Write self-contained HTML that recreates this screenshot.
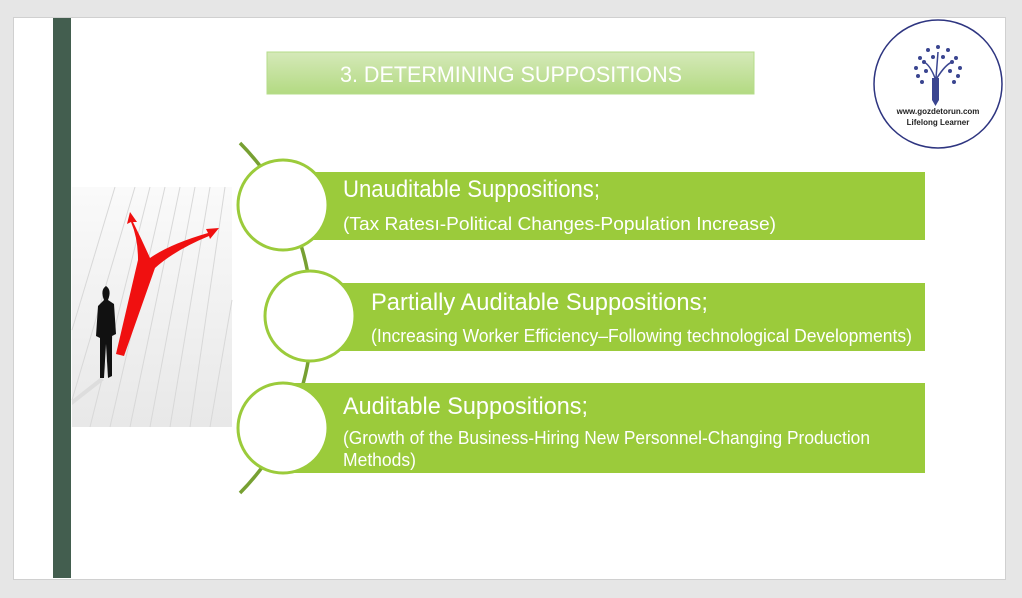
<!DOCTYPE html>
<html><head><meta charset="utf-8"><style>
html,body{margin:0;padding:0;background:#e6e6e6;}
svg{display:block;}
</style></head><body>
<svg width="1022" height="598" viewBox="0 0 1022 598" xmlns="http://www.w3.org/2000/svg" font-family="Liberation Sans, sans-serif">
<defs>
<linearGradient id="tg" x1="0" y1="0" x2="0" y2="1"><stop offset="0" stop-color="#d5e9b9"/><stop offset="1" stop-color="#b3da82"/></linearGradient>
<linearGradient id="ig" x1="0" y1="0" x2="0" y2="1"><stop offset="0" stop-color="#fafafa"/><stop offset="1" stop-color="#e8e8e8"/></linearGradient>
</defs>
<rect x="0" y="0" width="1022" height="598" fill="#e6e6e6"/>
<rect x="13.5" y="17.5" width="992" height="562" fill="#fff" stroke="#d0d0d0"/>
<rect x="53" y="18" width="18" height="560" fill="#435e4f"/>
<rect x="267" y="52" width="487" height="42" fill="url(#tg)" stroke="#b5dc8a"/>
<text x="340" y="82" font-size="22" fill="#fff" textLength="342" lengthAdjust="spacingAndGlyphs">3. DETERMINING SUPPOSITIONS</text>
<rect x="72" y="187" width="160" height="240" fill="url(#ig)"/>
<g stroke="#d8d8d8" stroke-width="1">
<line x1="90" y1="427" x2="150" y2="187"/><line x1="110" y1="427" x2="165" y2="187"/><line x1="130" y1="427" x2="180" y2="187"/><line x1="150" y1="427" x2="195" y2="187"/><line x1="170" y1="427" x2="210" y2="187"/><line x1="190" y1="427" x2="225" y2="187"/><line x1="210" y1="427" x2="232" y2="300"/><line x1="72" y1="400" x2="135" y2="187"/><line x1="72" y1="330" x2="115" y2="187"/>
</g>
<path d="M116 354 L138 260 Q138 238 131 222 L127 224 L130 212 L137 222 L133 222 Q142 240 150 258 Q170 244 208 233 L206 229 L219 228 L210 239 L209 236 Q175 250 155 268 L124 356 Z" fill="#f01010"/>
<path d="M104 300 q-4-10 2-14 q6 4 2 14 l6 4 l2 30 l-4 2 l0 40 l-4 2 l-2-34 l-2 34 l-4 0 l0-40 l-4-2 l2-30 z" fill="#111"/>
<path d="M100 378 L72 400 L72 405 L104 380 Z" fill="#ddd"/>
<path d="M240 143 A249 249 0 0 1 240 493" fill="none" stroke="#77a032" stroke-width="3.5"/>
<rect x="283" y="172" width="642" height="68" fill="#9bcb3b"/>
<rect x="310" y="283" width="615" height="68" fill="#9bcb3b"/>
<rect x="283" y="383" width="642" height="90" fill="#9bcb3b"/>
<g fill="#fff" stroke="#9bcb3b" stroke-width="3">
<circle cx="283" cy="205" r="45"/>
<circle cx="310" cy="316" r="45"/>
<circle cx="283" cy="428" r="45"/>
</g>
<g fill="#fff">
<text x="343" y="197" font-size="24" textLength="257" lengthAdjust="spacingAndGlyphs">Unauditable Suppositions;</text>
<text x="343" y="230" font-size="18" textLength="433" lengthAdjust="spacingAndGlyphs">(Tax Ratesı-Political Changes-Population Increase)</text>
<text x="371" y="310" font-size="24" textLength="337" lengthAdjust="spacingAndGlyphs">Partially Auditable Suppositions;</text>
<text x="371" y="342" font-size="18" textLength="541" lengthAdjust="spacingAndGlyphs">(Increasing Worker Efficiency–Following technological Developments)</text>
<text x="343" y="414" font-size="24" textLength="245" lengthAdjust="spacingAndGlyphs">Auditable Suppositions;</text>
<text x="343" y="444" font-size="18" textLength="527" lengthAdjust="spacingAndGlyphs">(Growth of the Business-Hiring New Personnel-Changing Production</text>
<text x="343" y="466" font-size="18" textLength="73" lengthAdjust="spacingAndGlyphs">Methods)</text>
</g>
<circle cx="938" cy="84" r="64" fill="#fff" stroke="#2e3580" stroke-width="1.5"/>
<g fill="#3a4590">
<rect x="932" y="78" width="7" height="22"/>
<path d="M932 100 L939 100 L935.5 106 Z"/>
<circle cx="920" cy="58" r="2"/><circle cx="928" cy="50" r="2"/><circle cx="938" cy="47" r="2"/><circle cx="948" cy="50" r="2"/><circle cx="956" cy="58" r="2"/>
<circle cx="916" cy="68" r="2"/><circle cx="924" cy="62" r="2"/><circle cx="933" cy="57" r="2"/><circle cx="943" cy="57" r="2"/><circle cx="952" cy="62" r="2"/><circle cx="960" cy="68" r="2"/>
<circle cx="918" cy="76" r="2"/><circle cx="926" cy="71" r="2"/><circle cx="950" cy="71" r="2"/><circle cx="958" cy="76" r="2"/><circle cx="922" cy="82" r="2"/><circle cx="954" cy="82" r="2"/>
</g>
<path d="M935 78 Q930 65 924 62 M936 78 L938 52 M937 78 Q945 65 952 62" stroke="#3a4590" stroke-width="1.5" fill="none"/>
<text x="938" y="114" font-size="8" font-weight="bold" fill="#222" text-anchor="middle">www.gozdetorun.com</text>
<text x="938" y="125" font-size="8" font-weight="bold" fill="#222" text-anchor="middle">Lifelong Learner</text>
</svg>
</body></html>
